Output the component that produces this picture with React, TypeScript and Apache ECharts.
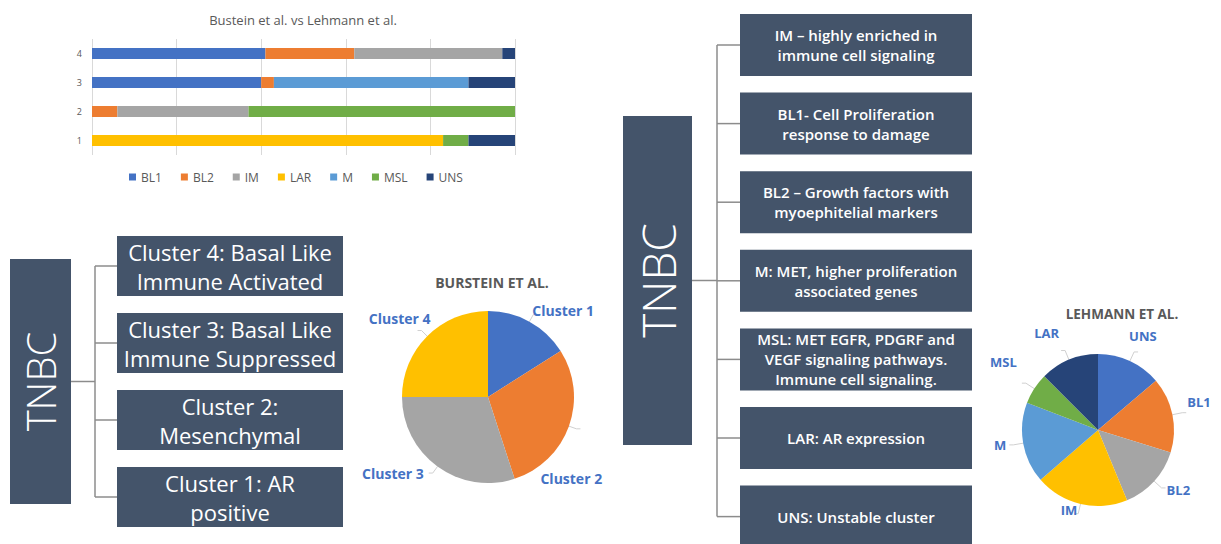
import React, { useEffect, useRef } from "react";
import * as echarts from "echarts";

// ---- Data ----
const barTitle = "Bustein et al. vs Lehmann et al.";
const barCategories = ["1", "2", "3", "4"];
const subtypes = ["BL1", "BL2", "IM", "LAR", "M", "MSL", "UNS"];
const subtypeColors = ["#4472C4", "#ED7D31", "#A5A5A5", "#FFC000", "#5B9BD5", "#70AD47", "#264478"];
const bl1Values = [0, 0, 40, 41];
const bl2Values = [0, 6, 3, 21];
const imValues = [0, 31, 0, 35];
const larValues = [83, 0, 0, 0];
const mValues = [0, 0, 46, 0];
const mslValues = [6, 63, 0, 0];
const unsValues = [11, 0, 11, 3];
const barSeriesValues = [bl1Values, bl2Values, imValues, larValues, mValues, mslValues, unsValues];

const bursteinTitle = "BURSTEIN ET AL.";
const bursteinNames = ["Cluster 1", "Cluster 2", "Cluster 3", "Cluster 4"];
const bursteinValues = [16, 29, 30, 25];
const bursteinColors = ["#4472C4", "#ED7D31", "#A5A5A5", "#FFC000"];

const lehmannTitle = "LEHMANN ET AL.";
const lehmannNames = ["UNS", "BL1", "BL2", "IM", "M", "MSL", "LAR"];
const lehmannValues = [13.8, 16, 14, 19.9, 17.2, 6.7, 12.5];
const lehmannColors = ["#4472C4", "#ED7D31", "#A5A5A5", "#FFC000", "#5B9BD5", "#70AD47", "#264478"];

const rootLabel = "TNBC";
const leftBoxTexts = [
  "Cluster 4: Basal Like\nImmune Activated",
  "Cluster 3: Basal Like\nImmune Suppressed",
  "Cluster 2:\nMesenchymal",
  "Cluster 1: AR\npositive",
];
const rightBoxTexts = [
  "IM – highly enriched in\nimmune cell signaling",
  "BL1- Cell Proliferation\nresponse to damage",
  "BL2 – Growth factors with\nmyoephitelial markers",
  "M: MET, higher proliferation\nassociated genes",
  "MSL: MET EGFR, PDGRF and\nVEGF signaling pathways.\nImmune cell signaling.",
  "LAR: AR expression",
  "UNS: Unstable cluster",
];

// label offsets (styling only), Excel "best fit" look
const bursteinLabelShift = [
  { dx: -10, dy: -4 },
  { dx: -45, dy: 50 },
  { dx: 0, dy: 0 },
  { dx: 18, dy: -12 },
];
const lehmannLabelShift = [
  { dx: -14, dy: -16 },
  { dx: -4, dy: -11 },
  { dx: -4, dy: 2 },
  { dx: 8, dy: -4 },
  { dx: 2, dy: 0 },
  { dx: 0, dy: -21 },
  { dx: 3, dy: -18 },
];

const BOX = "#44546A";
const LINE = "#8c8c8c";
const FONT = "'Open Sans', sans-serif";

function tree(
  rootX: number, rootY: number, rootW: number, rootH: number, rootFont: number,
  trunkX: number, boxX: number, boxW: number, boxTop: number, boxH: number, step: number,
  texts: string[], font: string, lineH: number
) {
  const els: any[] = [];
  els.push({ type: "rect", shape: { x: rootX, y: rootY, width: rootW, height: rootH }, style: { fill: BOX } });
  els.push({
    type: "text", x: rootX + rootW / 2, y: rootY + rootH / 2, rotation: Math.PI / 2,
    style: { text: rootLabel, fill: "#fff", font: `300 ${rootFont}px ${FONT}`, align: "center", verticalAlign: "middle" },
  });
  const mids = texts.map((_, i) => boxTop + i * step + boxH / 2);
  const midRoot = rootY + rootH / 2;
  els.push({ type: "line", shape: { x1: rootX + rootW, y1: midRoot, x2: trunkX, y2: midRoot }, style: { stroke: LINE, lineWidth: 1.5 } });
  els.push({ type: "line", shape: { x1: trunkX, y1: mids[0], x2: trunkX, y2: mids[mids.length - 1] }, style: { stroke: LINE, lineWidth: 1.5 } });
  texts.forEach((t, i) => {
    const y = boxTop + i * step;
    els.push({ type: "line", shape: { x1: trunkX, y1: mids[i], x2: boxX, y2: mids[i] }, style: { stroke: LINE, lineWidth: 1.5 } });
    els.push({ type: "rect", shape: { x: boxX, y, width: boxW, height: boxH }, style: { fill: BOX } });
    els.push({
      type: "text", x: boxX + boxW / 2, y: y + boxH / 2,
      style: { text: t, fill: "#fff", font, align: "center", verticalAlign: "middle", lineHeight: lineH },
    });
  });
  return els;
}

export default function App() {
  const ref = useRef<HTMLDivElement>(null);
  useEffect(() => {
    document.body.style.margin = "0";
    const chart = echarts.init(ref.current!, undefined, { renderer: "svg" });
    const option: any = {
      animation: false,
      backgroundColor: "#ffffff",
      title: [
        { text: barTitle, left: 298, top: 8, textAlign: "center", textStyle: { color: "#595959", fontSize: 13, fontWeight: "normal", fontFamily: FONT } },
        { text: bursteinTitle, left: 487, top: 270, textAlign: "center", textStyle: { color: "#595959", fontSize: 14, fontWeight: "bold", fontFamily: FONT } },
        { text: lehmannTitle, left: 1117, top: 302, textAlign: "center", textStyle: { color: "#595959", fontSize: 13.5, fontWeight: "bold", fontFamily: FONT } },
      ],
      legend: {
        data: subtypes,
        left: 124, top: 166,
        itemWidth: 7, itemHeight: 7, itemGap: 19,
        icon: "rect",
        textStyle: { color: "#595959", fontSize: 12, fontFamily: FONT },
      },
      grid: { left: 92, top: 39, width: 423, height: 116, containLabel: false },
      xAxis: {
        type: "value", min: 0, max: 100, interval: 20,
        axisLabel: { show: false }, axisLine: { show: false }, axisTick: { show: false },
        splitLine: { lineStyle: { color: "#d9d9d9" } },
      },
      yAxis: {
        type: "category", data: barCategories,
        axisLine: { show: false }, axisTick: { show: false },
        axisLabel: { color: "#595959", fontSize: 9, margin: 10, fontFamily: FONT },
      },
      series: [
        ...subtypes.map((name, i) => ({
          type: "bar", name, stack: "total", data: barSeriesValues[i], barWidth: 11,
          itemStyle: { color: subtypeColors[i] },
        })),
        {
          type: "pie", name: bursteinTitle, center: [488, 397], radius: 86, clockwise: true, startAngle: 90,
          data: bursteinNames.map((n, i) => ({ name: n, value: bursteinValues[i], itemStyle: { color: bursteinColors[i] } })),
          label: { color: "#4472C4", fontWeight: "bold", fontSize: 14, fontFamily: FONT, overflow: "none" },
          labelLine: { length: 8, length2: 4, lineStyle: { color: "#d0d0d0" } },
          labelLayout: (p: any) => bursteinLabelShift[p.dataIndex],
          emphasis: { disabled: true },
        },
        {
          type: "pie", name: lehmannTitle, center: [1098, 430], radius: 76, clockwise: true, startAngle: 90,
          data: lehmannNames.map((n, i) => ({ name: n, value: lehmannValues[i], itemStyle: { color: lehmannColors[i] } })),
          label: { color: "#4472C4", fontWeight: "bold", fontSize: 13, fontFamily: FONT, overflow: "none" },
          labelLine: { length: 10, length2: 4, lineStyle: { color: "#d0d0d0" } },
          labelLayout: (p: any) => lehmannLabelShift[p.dataIndex],
          emphasis: { disabled: true },
        },
      ],
      graphic: [
        ...tree(10, 259, 61, 245, 40, 95, 117, 226, 236, 60, 77, leftBoxTexts, `22px ${FONT}`, 29),
        ...tree(623, 116, 69, 329, 46, 717, 740, 232, 14, 62, 78.6, rightBoxTexts, `600 15px ${FONT}`, 20),
      ],
    };
    chart.setOption(option);
    return () => chart.dispose();
  }, []);
  return <div ref={ref} style={{ position: "fixed", left: 0, top: 0, width: 1221, height: 544, background: "#fff" }} />;
}
